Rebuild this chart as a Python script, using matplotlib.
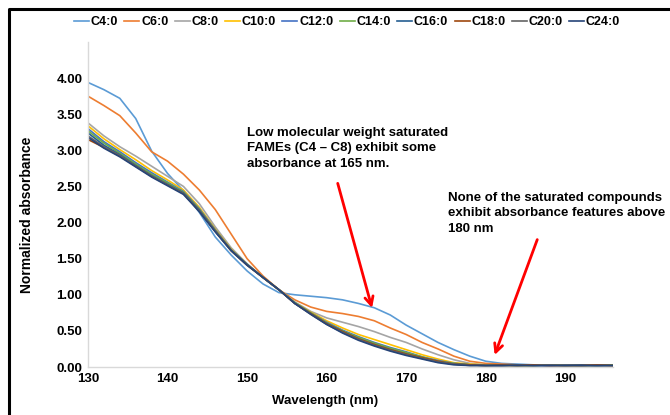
import matplotlib
matplotlib.use("Agg")
import matplotlib.pyplot as plt
from matplotlib.lines import Line2D

plt.rcParams["font.family"] = ["Liberation Sans", "DejaVu Sans"]
plt.rcParams["font.weight"] = "bold"

# wavelength grid (nm) and normalized absorbance
wavelength = list(range(130, 198, 2))

c4 = [3.94, 3.84, 3.72, 3.44, 2.99, 2.68, 2.44, 2.14, 1.80, 1.55,
      1.33, 1.15, 1.03, 1.00, 0.98, 0.96, 0.93, 0.88, 0.82, 0.72,
      0.58, 0.46, 0.34, 0.24, 0.15, 0.08, 0.05, 0.04, 0.03, 0.03,
      0.02, 0.03, 0.02, 0.03]
c6 = [3.75, 3.62, 3.48, 3.24, 2.98, 2.85, 2.67, 2.45, 2.18, 1.84,
      1.50, 1.26, 1.07, 0.93, 0.83, 0.77, 0.74, 0.70, 0.64, 0.54,
      0.45, 0.34, 0.25, 0.15, 0.08, 0.05, 0.04, 0.03, 0.03, 0.02,
      0.03, 0.02, 0.03, 0.02]
c8 = [3.38, 3.20, 3.05, 2.92, 2.78, 2.64, 2.50, 2.26, 1.94, 1.65,
      1.43, 1.24, 1.07, 0.90, 0.77, 0.68, 0.62, 0.56, 0.49, 0.41,
      0.34, 0.25, 0.17, 0.10, 0.05, 0.03, 0.03, 0.02, 0.03, 0.02,
      0.02, 0.03, 0.02, 0.02]
c10 = [3.34, 3.16, 3.01, 2.87, 2.72, 2.59, 2.45, 2.21, 1.91, 1.63,
       1.42, 1.24, 1.07, 0.89, 0.76, 0.64, 0.54, 0.45, 0.38, 0.31,
       0.24, 0.17, 0.11, 0.06, 0.04, 0.03, 0.02, 0.02, 0.02, 0.03,
       0.02, 0.02, 0.03, 0.02]
c12 = [3.30, 3.12, 2.98, 2.83, 2.69, 2.56, 2.43, 2.19, 1.90, 1.62,
       1.42, 1.24, 1.07, 0.89, 0.75, 0.62, 0.51, 0.42, 0.34, 0.27,
       0.21, 0.14, 0.09, 0.05, 0.03, 0.02, 0.02, 0.03, 0.02, 0.02,
       0.03, 0.02, 0.02, 0.03]
c14 = [3.27, 3.10, 2.96, 2.81, 2.67, 2.55, 2.42, 2.18, 1.89, 1.62,
       1.42, 1.24, 1.07, 0.89, 0.75, 0.61, 0.50, 0.41, 0.33, 0.26,
       0.20, 0.14, 0.08, 0.05, 0.03, 0.02, 0.03, 0.02, 0.02, 0.03,
       0.02, 0.02, 0.02, 0.03]
c16 = [3.24, 3.07, 2.94, 2.79, 2.65, 2.53, 2.41, 2.17, 1.88, 1.62,
       1.42, 1.24, 1.07, 0.88, 0.74, 0.60, 0.49, 0.39, 0.31, 0.24,
       0.18, 0.12, 0.07, 0.04, 0.03, 0.02, 0.02, 0.03, 0.02, 0.02,
       0.02, 0.03, 0.02, 0.02]
c18 = [3.15, 3.04, 2.92, 2.78, 2.64, 2.52, 2.40, 2.16, 1.88, 1.61,
       1.41, 1.24, 1.07, 0.88, 0.74, 0.60, 0.49, 0.39, 0.31, 0.24,
       0.18, 0.13, 0.08, 0.04, 0.03, 0.02, 0.03, 0.02, 0.03, 0.02,
       0.02, 0.02, 0.03, 0.02]
c20 = [3.20, 3.05, 2.93, 2.78, 2.64, 2.52, 2.40, 2.16, 1.88, 1.61,
       1.41, 1.24, 1.07, 0.88, 0.73, 0.59, 0.48, 0.38, 0.30, 0.23,
       0.17, 0.12, 0.07, 0.04, 0.02, 0.02, 0.02, 0.02, 0.02, 0.03,
       0.02, 0.02, 0.02, 0.02]
c24 = [3.18, 3.03, 2.91, 2.77, 2.63, 2.51, 2.39, 2.15, 1.87, 1.61,
       1.41, 1.24, 1.07, 0.88, 0.73, 0.59, 0.47, 0.37, 0.29, 0.22,
       0.16, 0.11, 0.06, 0.03, 0.02, 0.02, 0.02, 0.02, 0.02, 0.02,
       0.02, 0.02, 0.02, 0.02]

labels = ["C4:0", "C6:0", "C8:0", "C10:0", "C12:0", "C14:0", "C16:0", "C18:0", "C20:0", "C24:0"]
series = [c4, c6, c8, c10, c12, c14, c16, c18, c20, c24]
colors = ["#5B9BD5", "#ED7D31", "#A5A5A5", "#FFC000", "#4472C4",
          "#70AD47", "#255E91", "#9E480E", "#636363", "#264478"]

fig = plt.figure(figsize=(6.7, 4.15), dpi=100)
ax = fig.add_axes([88 / 670, 1 - 367 / 415, (613 - 88) / 670, (367 - 42) / 415])

for lab, vals, col in zip(labels, series, colors):
    ax.plot(wavelength, vals, color=col, lw=1.2, label=lab)

ax.set_xlim(130, 196)
ax.set_ylim(0, 4.5)
ax.set_xticks([130, 140, 150, 160, 170, 180, 190])
ax.set_yticks([0, 0.5, 1.0, 1.5, 2.0, 2.5, 3.0, 3.5, 4.0])
ax.set_yticklabels([f"{v:.2f}" for v in ax.get_yticks()])
ax.tick_params(length=0, labelsize=9.5, pad=4)
for s in ["top", "right"]:
    ax.spines[s].set_visible(False)
for s in ["left", "bottom"]:
    ax.spines[s].set_color("#D9D9D9")
    ax.spines[s].set_linewidth(1.0)

fig.text(325 / 670, 1 - 401 / 415, "Wavelength (nm)", ha="center", va="center", fontsize=9.5)
fig.text(27 / 670, 1 - 215 / 415, "Normalized absorbance", ha="center", va="center",
         rotation=90, fontsize=10)

fig.legend(loc="center", bbox_to_anchor=(347 / 670, 1 - 22 / 415), ncol=10, frameon=False,
           fontsize=9, handlelength=1.2, handletextpad=0.15, columnspacing=0.5,
           borderaxespad=0)

ax.text(150.0, 3.32, "Low molecular weight saturated\nFAMEs (C4 \u2013 C8) exhibit some\nabsorbance at 165 nm.",
        fontsize=9.5, va="top", ha="left", linespacing=1.35)
ax.text(175.2, 2.42, "None of the saturated compounds\nexhibit absorbance features above\n180 nm",
        fontsize=9.5, va="top", ha="left", linespacing=1.35)

arrow = dict(arrowstyle="->,head_length=0.6,head_width=0.3", color="red", lw=2.0)
ax.annotate("", xy=(165.8, 0.78), xytext=(161.3, 2.58), arrowprops=arrow)
ax.annotate("", xy=(181.0, 0.13), xytext=(186.6, 1.80), arrowprops=arrow)

# black frame on left and top of the figure
fig.add_artist(Line2D([9 / 670, 9 / 670, 1.0], [0.0, 1 - 9 / 415, 1 - 9 / 415],
                      transform=fig.transFigure, color="black", lw=2.2))

fig.savefig("out.png", dpi=100)
